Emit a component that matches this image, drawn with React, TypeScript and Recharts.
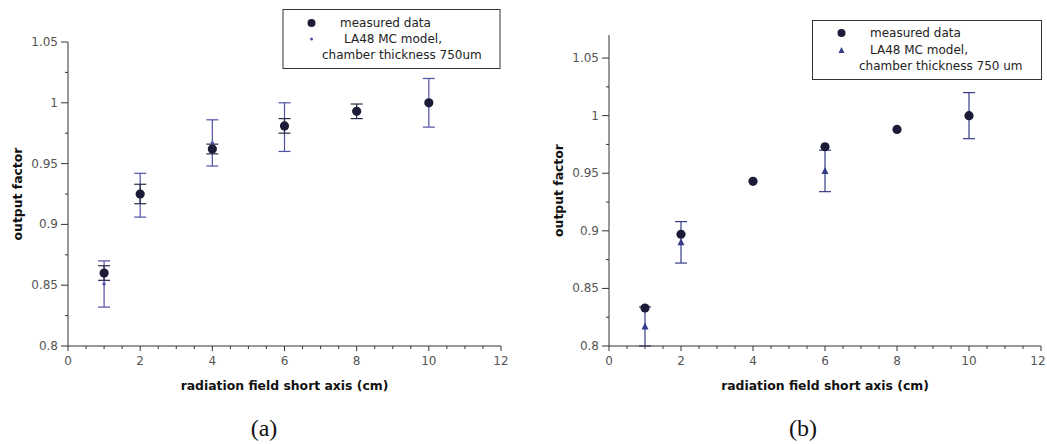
import { ScatterChart, Scatter, XAxis, YAxis, ErrorBar, Label } from 'recharts';

// field sizes (cm) where the output factor was measured
const fieldSizes = [1, 2, 4, 6, 8, 10];

// panel (a)
const measuredA = [0.86, 0.925, 0.962, 0.981, 0.993, 1.0];
const measuredErrA = [0.006, 0.008, 0.004, 0.006, 0.006, 0];
const modelSizesA = [1, 2, 4, 6, 10];
const modelA = [0.851, 0.924, 0.967, 0.98, 1.0];
const modelErrA = [0.019, 0.018, 0.019, 0.02, 0.02];

// panel (b)
const measuredB = [0.833, 0.897, 0.943, 0.973, 0.988, 1.0];
const modelSizesB = [1, 2, 6, 10];
const modelB = [0.817, 0.89, 0.952, 1.0];
const modelErrB = [0.017, 0.018, 0.018, 0.02];

// axes
const xMajorTicks = [0, 2, 4, 6, 8, 10, 12];
const xAllTicks = [0, 0.5, 1, 1.5, 2, 2.5, 3, 3.5, 4, 4.5, 5, 5.5, 6, 6.5, 7, 7.5, 8, 8.5, 9, 9.5, 10, 10.5, 11, 11.5, 12];
const yMajorTicks = [0.8, 0.85, 0.9, 0.95, 1, 1.05];
const yAllTicks = [0.8, 0.825, 0.85, 0.875, 0.9, 0.925, 0.95, 0.975, 1, 1.025, 1.05];

const AXIS = '#333';
const TICK_TEXT = '#555';
const FONT = '"DejaVu Sans", Verdana, sans-serif';
const DOT = '#1c1c38';
const MODEL_A = '#5050a4';
const MODEL_B = '#353d88';

const isMajor = (v: number, list: number[]) => list.some(m => Math.abs(m - v) < 1e-9);
const fmt = (v: number) => String(Number(v.toFixed(3)));

const XTick = (props: any) => {
  const { x, y, payload, edge } = props;
  const major = isMajor(payload.value, xMajorTicks);
  // last label of the right panel sits against the page edge
  const shift = edge && payload.value === 12 ? -3 : 0;
  return (
    <g>
      <line x1={x} x2={x} y1={y} y2={y + (major ? 5 : 3)} stroke={AXIS} strokeWidth={1} />
      {major && (
        <text x={x + shift} y={y + 19} textAnchor="middle" fontSize={12} fill={TICK_TEXT} fontFamily={FONT}>
          {fmt(payload.value)}
        </text>
      )}
    </g>
  );
};

const YTick = (props: any) => {
  const { x, y, payload } = props;
  const major = isMajor(payload.value, yMajorTicks);
  return (
    <g>
      <line x1={x - (major ? 7 : 3)} x2={x} y1={y} y2={y} stroke={AXIS} strokeWidth={1} />
      {major && (
        <text x={x - 10} y={y + 4} textAnchor="end" fontSize={12} fill={TICK_TEXT} fontFamily={FONT}>
          {fmt(payload.value)}
        </text>
      )}
    </g>
  );
};

const Circle = (props: any) => <circle cx={props.cx} cy={props.cy} r={4.6} fill={DOT} />;
const SmallDot = (props: any) => <circle cx={props.cx} cy={props.cy} r={1.7} fill={MODEL_A} />;
const Triangle = (props: any) => {
  const { cx, cy } = props;
  return <path d={`M${cx},${cy - 4} L${cx + 3.5},${cy + 3} L${cx - 3.5},${cy + 3} Z`} fill={MODEL_B} />;
};

type Panel = {
  left: number;
  width: number;
  top: number;
  right: number;
  yMax: number;
  edge?: boolean;
  measured: number[];
  measuredErr?: number[];
  modelX: number[];
  model: number[];
  modelErr: number[];
  modelColor: string;
  modelShape: any;
};

function OutputFactorChart({ left, width, top, right, yMax, edge, measured, measuredErr, modelX, model, modelErr, modelColor, modelShape }: Panel) {
  const measuredData = fieldSizes.map((x, i) => ({ x, y: measured[i], err: measuredErr ? measuredErr[i] : 0 }));
  const modelData = modelX.map((x, i) => ({ x, y: model[i], err: modelErr[i] }));
  const yTicks = yAllTicks.filter(t => t <= yMax + 1e-9);

  return (
    <div style={{ position: 'absolute', left, top: 0 }}>
      <ScatterChart width={width} height={400} margin={{ top, right, bottom: 24, left: 0 }}>
        <XAxis
          type="number"
          dataKey="x"
          domain={[0, 12]}
          ticks={xAllTicks}
          interval={0}
          tickSize={0}
          tickMargin={0}
          tickLine={false}
          tick={<XTick edge={edge} />}
          axisLine={{ stroke: AXIS }}
          height={30}
        >
          <Label
            value="radiation field short axis (cm)"
            position="center"
            dy={25}
            style={{ fontWeight: 'bold', fontSize: 12.4, fill: '#111', fontFamily: FONT }}
          />
        </XAxis>
        <YAxis
          type="number"
          dataKey="y"
          domain={[0.8, yMax]}
          ticks={yTicks}
          interval={0}
          tickSize={0}
          tickMargin={0}
          tickLine={false}
          tick={<YTick />}
          axisLine={{ stroke: AXIS }}
          width={68}
          allowDataOverflow
        >
          <Label
            value="output factor"
            position="center"
            angle={-90}
            dx={-16}
            style={{ fontWeight: 'bold', fontSize: 12.4, fill: '#111', fontFamily: FONT, textAnchor: 'middle' }}
          />
        </YAxis>
        <Scatter data={modelData} shape={modelShape} isAnimationActive={false}>
          <ErrorBar dataKey="err" direction="y" width={6} stroke={modelColor} strokeWidth={1.2} />
        </Scatter>
        <Scatter data={measuredData} shape={Circle} isAnimationActive={false}>
          {measuredErr && <ErrorBar dataKey="err" direction="y" width={6} stroke="#2a2a48" strokeWidth={1.2} />}
        </Scatter>
      </ScatterChart>
    </div>
  );
}

export default function App() {
  const txt = { fontFamily: FONT, fontSize: 12, fill: '#222' };
  return (
    <div style={{ position: 'relative', width: 1047, height: 444, overflow: 'hidden', background: '#fff' }}>
      <style>{'body{margin:0}'}</style>
      <OutputFactorChart
        left={0}
        width={520}
        top={42}
        right={19}
        yMax={1.05}
        measured={measuredA}
        measuredErr={measuredErrA}
        modelX={modelSizesA}
        model={modelA}
        modelErr={modelErrA}
        modelColor={MODEL_A}
        modelShape={SmallDot}
      />
      <OutputFactorChart
        left={541}
        width={506}
        top={35}
        right={6}
        yMax={1.07}
        edge
        measured={measuredB}
        modelX={modelSizesB}
        model={modelB}
        modelErr={modelErrB}
        modelColor={MODEL_B}
        modelShape={Triangle}
      />
      <svg width={1047} height={444} style={{ position: 'absolute', left: 0, top: 0, pointerEvents: 'none' }}>
        {/* legend (a) */}
        <rect x={283} y={9.5} width={217} height={59} fill="#fff" stroke="#333" strokeWidth={1} />
        <circle cx={311.5} cy={23} r={4} fill={DOT} />
        <text x={340} y={27} {...txt}>measured data</text>
        <circle cx={311.5} cy={39} r={1.5} fill={MODEL_A} />
        <text x={344} y={43} {...txt}>LA48 MC model,</text>
        <text x={322} y={59} {...txt}>chamber thickness 750um</text>

        {/* legend (b) */}
        <rect x={812.5} y={20.5} width={229} height={59} fill="#fff" stroke="#333" strokeWidth={1} />
        <circle cx={841.5} cy={33} r={4} fill={DOT} />
        <text x={870} y={37} {...txt}>measured data</text>
        <path d="M841.5,47 L844.5,53 L838.5,53 Z" fill={MODEL_B} />
        <text x={870} y={54} {...txt}>LA48 MC model,</text>
        <text x={859} y={70} {...txt}>chamber thickness 750 um</text>

        {/* sub-figure captions */}
        <text x={264} y={436} textAnchor="middle" fontFamily='"Liberation Serif", serif' fontSize={24} fill="#111">(a)</text>
        <text x={803} y={436} textAnchor="middle" fontFamily='"Liberation Serif", serif' fontSize={24} fill="#111">(b)</text>
      </svg>
    </div>
  );
}
